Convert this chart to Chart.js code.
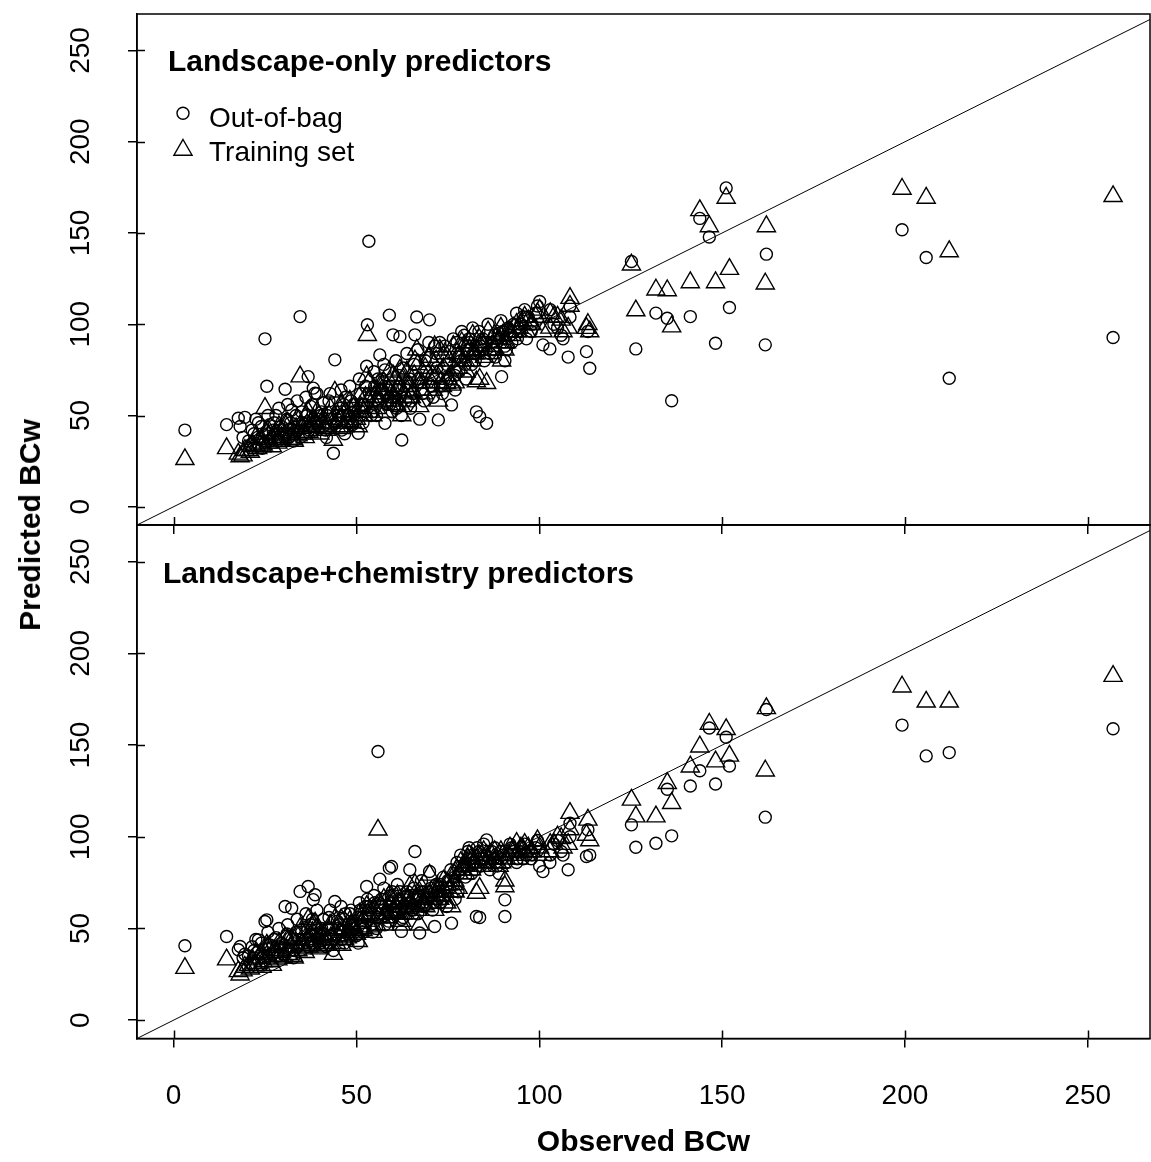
<!DOCTYPE html>
<html>
<head>
<meta charset="utf-8">
<title>Observed vs predicted BCw</title>
<script src="https://cdn.jsdelivr.net/npm/chart.js@4.4.1/dist/chart.umd.min.js"></script>
<style>
  html, body { margin: 0; padding: 0; background: #fff; }
  #wrap { position: relative; width: 1151px; height: 1162px; overflow: hidden; }
  canvas { position: absolute; left: 0; }
  #topChart { top: 0; }
  #bottomChart { top: 515px; }
  #yTitle {
    position: absolute; left: 30px; top: 525px;
    transform: translate(-50%, -50%) rotate(-90deg);
    font: bold 30px "Liberation Sans", Arial, sans-serif;
    line-height: 1; white-space: nowrap; color: #000;
  }
</style>
</head>
<body>
<div id="wrap">
  <canvas id="topChart" width="1151" height="545"></canvas>
  <canvas id="bottomChart" width="1151" height="647"></canvas>
  <div id="yTitle">Predicted BCw</div>
</div>
<script>
const FONT = '"Liberation Sans", Arial, Helvetica, sans-serif';

// observed BCw for each site (shared by both panels)
const observed = [
  3.1, 14.5, 17.7, 18.2, 19.5, 19, 22, 23.2, 25, 25.5,
  26.3, 27, 28, 29, 30.5, 31, 32.3, 33, 34.6, 35,
  36, 36.8, 37.5, 38.2, 38.7, 39.5, 40, 41, 42, 43.7,
  44.1, 44.5, 45.5, 46, 47, 48, 49, 50.5, 51, 52,
  52.8, 53, 53.4, 55.9, 54.5, 56.4, 57.8, 57.8, 59, 59.6,
  60, 61, 61.9, 62.3, 62.4, 63, 64.6, 65, 66, 66.5,
  67.3, 68, 69, 70, 71.4, 72.4, 73, 74.7, 75.5, 76,
  76.9, 77.5, 78.5, 79.5, 80.5, 81.5, 82.8, 83.7, 83, 84.5,
  85.6, 86.5, 87, 88, 89, 89.7, 90.6, 90.6, 91.5, 92.5,
  93.8, 94.5, 95.6, 96.5, 100.1, 101, 102.9, 104, 106, 106.5,
  107.9, 108.4, 108.4, 112.9, 113.3, 113.8, 20.5, 21.5, 23, 24,
  24.5, 26, 27.5, 28.5, 29.5, 31.5, 32, 33.5, 34, 35.5,
  36.5, 37, 38, 39, 40.5, 41.5, 42.5, 43, 45, 46.5,
  47.5, 48.5, 49.5, 50, 51.5, 53.5, 54, 55, 56, 57,
  58.5, 59.5, 60.5, 61.5, 63.5, 64, 65.5, 67, 68.5, 70.5,
  71, 72, 73.5, 75, 77, 78, 80, 81, 82, 84,
  85, 87.5, 88.5, 90, 91, 93, 94, 95, 97, 98,
  99, 125.2, 126.4, 131.9, 135, 136.2, 141.3, 143.9, 146.5, 148.2,
  151.1, 152, 162.1, 161.8, 199.2, 205.8, 212.1, 256.9,
  21, 22.5, 24.2, 25.8, 27.2, 28.8, 30, 31.2, 32.8, 33.8,
  35.2, 36.2, 37.8, 39.2, 40.2, 41.8, 42.8, 44.8, 45.8, 46.8,
  48.2, 49.2, 50.8, 51.8, 52.5, 54.8, 55.5, 56.8, 57.5, 58.8,
  59.8, 60.8, 61.2, 62.8, 63.8, 64.8, 65.8, 66.8, 67.8, 68.8,
  69.8, 70.8, 71.8, 72.8, 73.8, 74.2, 75.8, 76.5, 77.8, 78.8,
  79.8, 80.8, 81.8, 82.5, 83.5, 84.8, 86, 87.8, 89.5, 92,
  96, 97.8, 99.5, 103, 105
];

// Landscape-only predictors
const oobLandscape = [
  42, 45, 48.5, 44, 49, 38, 40, 46, 92, 66,
  45, 38, 50, 42, 64.4, 48, 53, 40, 104.2, 52,
  45, 71.3, 55, 65, 62.2, 48, 44, 57, 50, 29.3,
  80.5, 46, 54, 42, 60, 50, 45, 40.3, 62, 56,
  77, 99.7, 145.5, 70, 52, 83.2, 75, 45.7, 105, 60,
  94.2, 54, 93.2, 50, 36.6, 66, 70, 58, 94.2, 104,
  48, 62, 74, 102.4, 88, 47.6, 66, 78, 85, 55.8,
  72, 90, 80, 94, 86, 78, 52, 49.4, 88, 92,
  45.7, 84, 90, 82, 95, 71.3, 88, 80, 98, 90,
  106, 96, 104.2, 92, 112.5, 88.7, 86.5, 100, 94, 92,
  82, 110, 104, 85, 96, 75.9, 36, 42, 38, 44,
  36, 40, 46, 36, 44, 38, 46, 50, 42, 40,
  50, 42, 56, 46, 52, 42, 58, 48, 50, 56,
  46, 58, 52, 48, 56, 62, 50, 66, 58, 70,
  56, 66, 60, 72, 58, 68, 62, 70, 58, 66,
  60, 76, 62, 70, 64, 74, 70, 90, 84, 88,
  80, 86, 92, 96, 86, 100, 92, 100, 104, 100,
  106, 134.4, 86.5, 106.1, 103.3, 58.1, 104.2, 158, 147.8, 89.6,
  174.7, 109.2, 138.4, 88.7, 151.8, 136.6, 70.4, 92.7,
  34, 48, 32, 50, 42, 54, 40, 56, 36, 58,
  46, 60, 44, 62, 50, 38, 62, 52, 64, 40,
  66, 56, 70, 46, 66, 74, 50, 64, 78, 66,
  52, 80, 64, 76, 84, 54, 78, 86, 68, 80,
  90, 72, 84, 90, 76, 88, 68, 92, 82, 96,
  78, 92, 98, 80, 96, 86, 100, 94, 102, 94,
  108, 96, 110, 108, 98
];
const trainLandscape = [
  26, 32, 29, 27.5, 31, 28, 33, 35, 54, 40,
  36, 33, 38, 36, 45, 40, 42, 36, 71.3, 44,
  38, 52, 46, 48, 47, 42, 40, 48, 45, 36.6,
  63, 44, 48, 43, 52, 47, 46, 44, 55, 52,
  71.3, 94, 68, 60, 50, 66, 62, 52, 74, 58,
  72, 56, 75, 55, 50, 62, 66, 60, 80, 86,
  55, 64, 70, 82, 87.8, 58, 68, 67.7, 80, 66.8,
  75, 84, 82, 88, 85, 80, 68.6, 70, 86, 90,
  67.7, 84, 88, 86, 92, 80, 90, 86, 96, 94,
  100, 98, 102, 96, 107.9, 96, 98, 104, 102.4, 96,
  98, 114.3, 110, 97.9, 100, 96, 31, 34, 32, 37,
  34, 35, 39, 35, 38, 37, 41, 43, 39, 40,
  45, 41, 47, 44, 46, 43, 50, 46, 47, 50,
  46, 52, 50, 48, 54, 58, 52, 60, 57, 64,
  58, 62, 60, 66, 60, 66, 63, 68, 62, 68,
  64, 72, 66, 70, 68, 76, 74, 86, 84, 88,
  82, 86, 90, 94, 90, 98, 96, 100, 102, 100,
  104, 132.6, 107.5, 118.9, 118.5, 98.7, 122.9, 162.4, 153.6, 122.9,
  169.2, 130.2, 153.6, 122.2, 174.1, 169.2, 139.9, 170.1,
  30, 38, 33, 42, 37, 44, 38, 46, 37, 48,
  43, 50, 44, 52, 48, 42, 54, 50, 56, 44,
  58, 54, 60, 50, 60, 64, 54, 62, 68, 64,
  56, 70, 64, 70, 74, 60, 72, 78, 68, 76,
  82, 72, 80, 86, 76, 84, 72, 88, 82, 90,
  80, 90, 94, 84, 92, 88, 96, 94, 98, 96,
  104, 100, 106, 106, 104
];

// Landscape+chemistry predictors
const oobChemistry = [
  40.6, 45.6, 38.4, 40.2, 36, 34, 38, 43.8, 53.8, 54.7,
  41, 36, 45, 40, 62, 47, 61, 38, 70.2, 48,
  44, 72.9, 52, 65.7, 68.4, 45, 42, 55, 50, 38,
  64.7, 47, 52, 44, 58, 48, 54, 42, 60, 50,
  72.9, 66, 62, 146.5, 48, 76.9, 57, 52, 82.9, 83.8,
  64, 58, 70, 48.4, 55, 66, 82, 60, 92, 66,
  47.5, 70, 63, 81.1, 51.1, 68, 74, 62, 72, 52.9,
  78, 86, 90, 84, 92, 80, 56.5, 56, 94, 88,
  98.3, 82, 92, 86, 80, 88, 65.6, 56.5, 90, 94,
  86, 92, 88, 90, 84, 81, 86, 96, 92, 90,
  82, 107.4, 100, 89.2, 103.8, 90, 35, 40, 37, 42,
  34, 39, 44, 35, 42, 39, 45, 48, 40, 42,
  51, 40, 55, 47, 50, 44, 56, 46, 50, 55,
  47, 60, 50, 46, 56, 60, 52, 64, 56, 62,
  60, 68, 58, 66, 62, 70, 60, 68, 62, 72,
  64, 70, 66, 76, 66, 80, 84, 88, 86, 84,
  90, 88, 84, 90, 86, 92, 88, 94, 92, 90,
  94, 106.5, 94.3, 96.5, 125.9, 100.5, 127.7, 136, 159.3, 128.8,
  154.3, 138.6, 169.4, 110.7, 160.9, 144.1, 145.9, 158.9,
  31, 44, 30, 48, 40, 50, 36, 52, 34, 55,
  44, 58, 42, 60, 48, 40, 60, 54, 62, 42,
  58, 52, 64, 48, 62, 68, 50, 66, 72, 54,
  70, 62, 74, 56, 68, 64, 72, 58, 76, 66,
  70, 60, 74, 64, 78, 68, 82, 74, 70, 84,
  78, 94, 90, 82, 92, 96, 86, 94, 92, 96,
  96, 88, 98, 90, 98
];
const trainChemistry = [
  28.4, 33, 26.6, 24.8, 29, 27, 30, 34, 37, 41,
  32, 30, 37, 35, 45, 38, 44, 34, 50, 41,
  37, 55, 46, 52, 53, 40, 39, 47, 44, 36,
  55, 42, 48, 41, 50, 46, 49, 43, 54, 50,
  62, 58, 57, 103.8, 48, 64, 56, 52, 68, 66,
  60, 58, 64, 52, 54, 62, 72.9, 58, 74, 64,
  52, 66, 62, 79.2, 60, 66, 70, 64, 70, 62,
  76, 82, 86, 84, 88, 82, 69.3, 72, 88, 86,
  90, 84, 90, 88, 84, 86, 72.9, 76, 90, 92,
  96.5, 88, 92.9, 90, 94, 90, 92, 96, 99.2, 94,
  96, 112.9, 104, 101, 109.2, 98, 30, 33, 31, 36,
  32, 34, 38, 33, 37, 36, 40, 42, 38, 39,
  44, 40, 48, 43, 45, 42, 49, 45, 46, 49,
  45, 52, 49, 47, 53, 57, 51, 60, 56, 60,
  58, 63, 59, 64, 61, 66, 62, 67, 63, 70,
  66, 70, 68, 74, 70, 80, 84, 86, 86, 84,
  88, 88, 86, 90, 88, 92, 90, 94, 94, 92,
  96, 120.1, 111, 111, 129.2, 118.3, 138.2, 149.1, 161.5, 141,
  158.6, 144.1, 170, 136, 181.8, 173.6, 173.6, 187.6,
  28, 36, 29, 40, 35, 42, 34, 44, 35, 46,
  42, 48, 41, 50, 46, 41, 52, 50, 55, 44,
  54, 51, 58, 49, 57, 61, 52, 62, 66, 56,
  65, 62, 68, 58, 65, 63, 68, 60, 72, 66,
  68, 64, 72, 66, 76, 70, 78, 74, 72, 82,
  80, 90, 88, 84, 90, 92, 88, 92, 92, 94,
  96, 92, 98, 96, 100
];

// 1:1 reference line end points
const oneToOne = [-10, 270];
const axisTicks = [0, 50, 100, 150, 200, 250];

function pairUp(predicted) {
  return observed.map((x, i) => ({ x: x, y: predicted[i] }));
}

// box round the plot, inner half of the tick marks, panel title and key
const panelFrame = {
  id: 'panelFrame',
  afterDraw(chart, args, opts) {
    const { ctx, chartArea: a, scales } = chart;
    ctx.save();
    ctx.strokeStyle = '#000';
    ctx.lineWidth = 1.5;
    ctx.strokeRect(a.left, a.top, a.right - a.left, a.bottom - a.top);

    ctx.beginPath();
    scales.x.ticks.forEach(t => {
      const p = Math.round(scales.x.getPixelForValue(t.value)) + 0.5;
      ctx.moveTo(p, a.bottom);
      ctx.lineTo(p, a.bottom - opts.inner);
    });
    scales.y.ticks.forEach(t => {
      const p = Math.round(scales.y.getPixelForValue(t.value)) + 0.5;
      ctx.moveTo(a.left, p);
      ctx.lineTo(a.left + opts.inner, p);
    });
    ctx.stroke();

    ctx.fillStyle = '#000';
    ctx.textAlign = 'left';
    ctx.textBaseline = 'alphabetic';
    ctx.font = 'bold 30px ' + FONT;
    ctx.fillText(opts.title, a.left + opts.titleX, a.top + opts.titleY);

    if (opts.legend) {
      ctx.font = '28px ' + FONT;
      let row = 0;
      chart.data.datasets.forEach(ds => {
        if (!ds.inLegend) return;
        const cx = a.left + opts.keyX;
        const cy = a.top + opts.keyY[row];
        ctx.lineWidth = ds.pointBorderWidth;
        ctx.strokeStyle = '#000';
        ctx.fillStyle = 'rgba(0,0,0,0)';
        Chart.helpers.drawPoint(ctx, {
          pointStyle: ds.pointStyle, radius: ds.pointRadius,
          borderWidth: ds.pointBorderWidth, rotation: 0
        }, cx, cy);
        ctx.fillStyle = '#000';
        ctx.fillText(ds.label, a.left + opts.textX, a.top + opts.textY[row]);
        row++;
      });
    }
    ctx.restore();
  }
};

function makePanel(canvasId, oob, train, panel) {
  const axisLine = { display: true, color: '#000', width: 1.5 };
  const tickMarks = { drawOnChartArea: false, drawTicks: true, tickLength: 9, color: '#000', lineWidth: 1.5 };
  const tickFont = { family: FONT, size: 28 };

  return new Chart(document.getElementById(canvasId), {
    type: 'scatter',
    data: {
      datasets: [
        {
          label: 'Out-of-bag',
          data: pairUp(oob),
          pointStyle: 'circle',
          pointRadius: 6,
          pointBorderWidth: 1.4,
          borderColor: '#000',
          pointBorderColor: '#000',
          backgroundColor: 'rgba(0,0,0,0)',
          pointBackgroundColor: 'rgba(0,0,0,0)',
          inLegend: true
        },
        {
          label: 'Training set',
          data: pairUp(train),
          pointStyle: 'triangle',
          pointRadius: 10.5,
          pointBorderWidth: 1.4,
          borderColor: '#000',
          pointBorderColor: '#000',
          backgroundColor: 'rgba(0,0,0,0)',
          pointBackgroundColor: 'rgba(0,0,0,0)',
          inLegend: true
        },
        {
          type: 'line',
          label: '1:1',
          data: oneToOne.map(v => ({ x: v, y: v })),
          borderColor: '#000',
          borderWidth: 1,
          pointRadius: 0,
          fill: false
        }
      ]
    },
    options: {
      responsive: false,
      animation: false,
      devicePixelRatio: 1,
      events: [],
      layout: {
        autoPadding: false,
        padding: { top: panel.padTop, right: 1, left: 0, bottom: 0 }
      },
      scales: {
        x: {
          type: 'linear',
          min: -10,
          max: 267,
          afterBuildTicks: s => { s.ticks = axisTicks.map(v => ({ value: v })); },
          ticks: {
            display: panel.xLabels,
            color: '#000',
            font: tickFont,
            padding: 32,
            maxRotation: 0,
            autoSkip: false
          },
          grid: tickMarks,
          border: axisLine,
          title: {
            display: panel.xLabels,
            text: 'Observed BCw',
            color: '#000',
            font: { family: FONT, size: 30, weight: 'bold' },
            padding: { top: 0, bottom: 1 }
          },
          afterFit: s => {
            s.height = panel.xHeight;
            s.paddingLeft = 0;
            s.paddingRight = 0;
          }
        },
        y: {
          type: 'linear',
          min: -10,
          max: 270,
          afterBuildTicks: s => { s.ticks = axisTicks.map(v => ({ value: v })); },
          ticks: {
            color: '#000',
            font: tickFont,
            minRotation: 90,
            maxRotation: 90,
            crossAlign: 'center',
            padding: 23
          },
          grid: tickMarks,
          border: axisLine,
          afterFit: s => {
            s.width = 137;
            s.paddingTop = 0;
            s.paddingBottom = 0;
          }
        }
      },
      plugins: {
        legend: { display: false },
        tooltip: { enabled: false },
        panelFrame: {
          inner: 8,
          title: panel.title,
          titleX: panel.titleX,
          titleY: panel.titleY,
          legend: panel.legend,
          keyX: 46,
          keyY: [99.3, 136],
          textX: 72,
          textY: [112.7, 146.7]
        }
      }
    },
    plugins: [panelFrame]
  });
}

makePanel('topChart', oobLandscape, trainLandscape, {
  title: 'Landscape-only predictors',
  titleX: 31, titleY: 56.7,
  legend: true,
  padTop: 14,
  xLabels: false,
  xHeight: 20
});

makePanel('bottomChart', oobChemistry, trainChemistry, {
  title: 'Landscape+chemistry predictors',
  titleX: 26, titleY: 58.3,
  legend: false,
  padTop: 10,
  xLabels: true,
  xHeight: 123.5
});
</script>
</body>
</html>
